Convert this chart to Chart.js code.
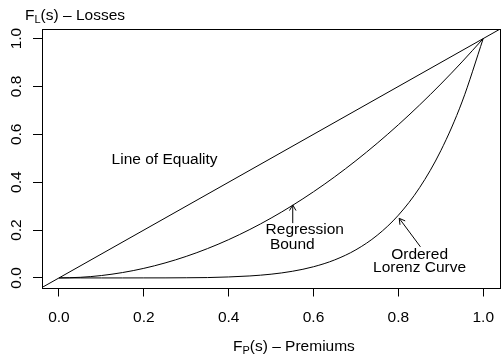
<!DOCTYPE html>
<html>
<head>
<meta charset="utf-8">
<script src="https://cdn.jsdelivr.net/npm/chart.js@4"></script>
<style>
  html, body { margin: 0; padding: 0; overflow: hidden; background: #fff; }
  #wrap { width: 503px; height: 355px; overflow: hidden; }
</style>
</head>
<body>
<div id="wrap"><canvas id="lorenzChart" width="506" height="355"></canvas></div>
<script>
// premium share F_P(s) and the two curves
var premiumShare = [0, 0.05, 0.1, 0.15, 0.2, 0.25, 0.3, 0.35, 0.4, 0.45, 0.5,
                    0.55, 0.6, 0.65, 0.7, 0.75, 0.8, 0.85, 0.9, 0.95, 1];
var regressionBound = [0, 0.0025, 0.01, 0.0225, 0.04, 0.0625, 0.09, 0.1225, 0.16, 0.2025, 0.25,
                       0.3025, 0.36, 0.4225, 0.49, 0.5625, 0.64, 0.7225, 0.81, 0.9025, 1];
var orderedLorenz = [0, 0, 0, 0, 0.0001, 0.0002, 0.0007, 0.0015, 0.0041, 0.0083, 0.0156,
                     0.0277, 0.0467, 0.0754, 0.1176, 0.178, 0.2621, 0.3771, 0.5314, 0.7351, 1];
var equalityEnds = [-0.04, 1.04];
var tickValues = [0, 0.2, 0.4, 0.6, 0.8, 1];

var FONT = '"Liberation Sans", Arial, sans-serif';
var SIZE = 15.5;

const toPoints = (xs, ys) => xs.map((v, i) => ({x: v, y: ys[i]}));

const arrow = (ctx, x0, y0, x1, y1) => {
  var ang = Math.atan2(y1 - y0, x1 - x0);
  var len = 6.5;
  ctx.beginPath();
  ctx.moveTo(x0, y0);
  ctx.lineTo(x1, y1);
  ctx.moveTo(x1 - len * Math.cos(ang - Math.PI / 6), y1 - len * Math.sin(ang - Math.PI / 6));
  ctx.lineTo(x1, y1);
  ctx.lineTo(x1 - len * Math.cos(ang + Math.PI / 6), y1 - len * Math.sin(ang + Math.PI / 6));
  ctx.stroke();
};

// F with a subscript, then the rest of the title
const subTitle = (ctx, left, base, sub, rest) => {
  ctx.textAlign = 'left';
  ctx.textBaseline = 'alphabetic';
  ctx.font = SIZE + 'px ' + FONT;
  ctx.fillText('F', left, base);
  var x = left + ctx.measureText('F').width;
  ctx.font = '11px ' + FONT;
  ctx.fillText(sub, x, base + 3);
  x += ctx.measureText(sub).width;
  ctx.font = SIZE + 'px ' + FONT;
  ctx.fillText(rest, x, base);
};

const decorations = {
  id: 'decorations',
  afterDraw(chart) {
    const {ctx, chartArea: a, scales: {x, y}} = chart;
    ctx.save();
    ctx.strokeStyle = '#000';
    ctx.fillStyle = '#000';
    ctx.lineWidth = 1;
    // plot box
    ctx.strokeRect(Math.round(a.left) + 0.5, Math.round(a.top) + 0.5,
                   Math.round(a.right - a.left), Math.round(a.bottom - a.top));

    // axis titles
    subTitle(ctx, 233, 351, 'P', '(s) \u2013 Premiums');
    subTitle(ctx, 25, 19.5, 'L', '(s) \u2013 Losses');

    // labels inside the plot
    ctx.font = SIZE + 'px ' + FONT;
    ctx.textBaseline = 'alphabetic';
    ctx.textAlign = 'center';
    ctx.fillText('Line of Equality', x.getPixelForValue(0.249), y.getPixelForValue(0.478));
    ctx.textAlign = 'left';
    ctx.fillText('Regression', x.getPixelForValue(0.487), y.getPixelForValue(0.183));
    ctx.fillText(' Bound', x.getPixelForValue(0.487), y.getPixelForValue(0.122));
    ctx.textAlign = 'center';
    ctx.fillText('Ordered', x.getPixelForValue(0.850), y.getPixelForValue(0.078));
    ctx.fillText('Lorenz Curve', x.getPixelForValue(0.850), y.getPixelForValue(0.025));

    arrow(ctx, x.getPixelForValue(0.551), y.getPixelForValue(0.229),
               x.getPixelForValue(0.551), y.getPixelForValue(0.305));
    arrow(ctx, x.getPixelForValue(0.852), y.getPixelForValue(0.130),
               x.getPixelForValue(0.802), y.getPixelForValue(0.249));
    ctx.restore();
  }
};

const lineSet = (data) => ({
  data: data,
  borderColor: '#000',
  borderWidth: 1,
  pointRadius: 0,
  fill: false,
  cubicInterpolationMode: 'monotone'
});

var ctx = document.getElementById('lorenzChart').getContext('2d');

new Chart(ctx, {
  type: 'line',
  data: {
    datasets: [
      lineSet(toPoints(equalityEnds, equalityEnds)),
      lineSet(toPoints(premiumShare, regressionBound)),
      lineSet(toPoints(premiumShare, orderedLorenz))
    ]
  },
  options: {
    responsive: false,
    animation: false,
    layout: { padding: { top: 29, left: 0, right: 0, bottom: 0 } },
    plugins: { legend: { display: false }, tooltip: { enabled: false } },
    scales: {
      x: {
        type: 'linear',
        min: -0.04,
        max: 1.04,
        afterBuildTicks: (axis) => { axis.ticks = tickValues.map(v => ({value: v})); },
        afterFit: (axis) => { axis.height = 67.5; },
        border: { display: false },
        grid: { drawOnChartArea: false, drawTicks: true, tickLength: 9, color: '#000', lineWidth: 1 },
        ticks: {
          color: '#000',
          padding: 12,
          maxRotation: 0,
          font: { family: FONT, size: SIZE },
          callback: (v) => v.toFixed(1)
        }
      },
      y: {
        type: 'linear',
        min: -0.04,
        max: 1.04,
        afterBuildTicks: (axis) => { axis.ticks = tickValues.map(v => ({value: v})); },
        afterFit: (axis) => { axis.width = 42; },
        border: { display: false },
        grid: { drawOnChartArea: false, drawTicks: true, tickLength: 9, color: '#000', lineWidth: 1 },
        ticks: {
          color: '#000',
          padding: 6,
          minRotation: 90,
          maxRotation: 90,
          crossAlign: 'center',
          font: { family: FONT, size: SIZE },
          callback: (v) => v.toFixed(1)
        }
      }
    }
  },
  plugins: [decorations]
});
</script>
</body>
</html>
